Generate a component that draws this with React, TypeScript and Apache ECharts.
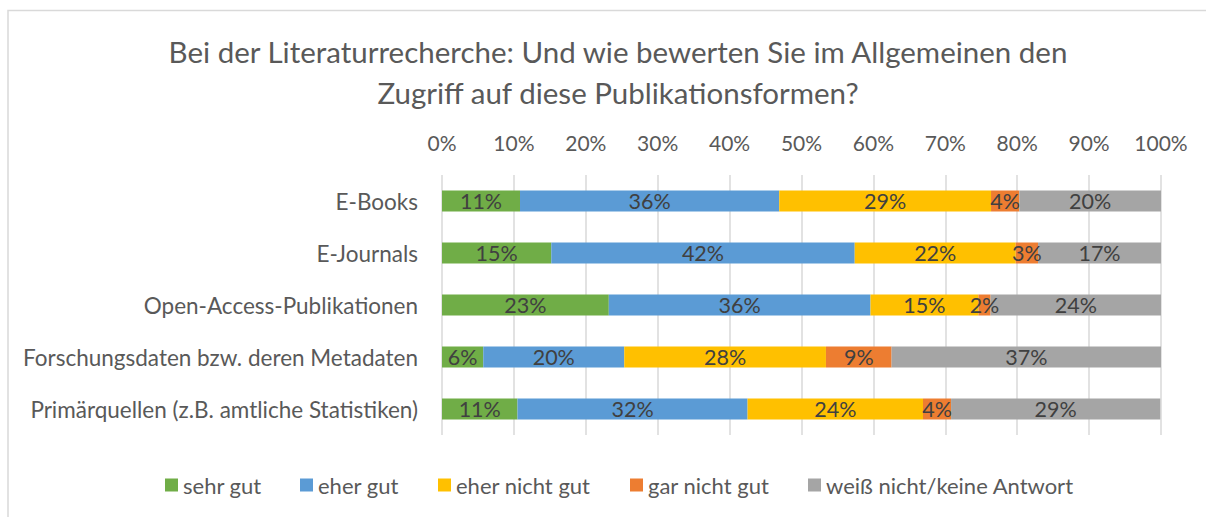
import React, { useEffect, useRef } from "react";
import * as echarts from "echarts";

const categories = [
  "E-Books",
  "E-Journals",
  "Open-Access-Publikationen",
  "Forschungsdaten bzw. deren Metadaten",
  "Primärquellen (z.B. amtliche Statistiken)",
];
const seriesNames = ["sehr gut", "eher gut", "eher nicht gut", "gar nicht gut", "weiß nicht/keine Antwort"];
const sehrGut = [10.85, 15.2, 23.2, 5.74, 10.5];
const eherGut = [36.05, 42.2, 36.4, 19.61, 32.0];
const eherNichtGut = [29.46, 22.4, 15.0, 28.05, 24.4];
const garNichtGut = [3.93, 3.1, 1.7, 9.13, 3.9];
const weissNicht = [19.71, 17.2, 23.7, 37.47, 29.1];
const colors = ["#70ad47", "#5b9bd5", "#ffc000", "#ed7d31", "#a5a5a5"];
const legendX = [165, 300, 438, 630, 808];
const FONT = "Lato";

export default function App() {
  const ref = useRef<HTMLDivElement>(null);
  useEffect(() => {
    if (!ref.current) return;
    const chart = echarts.init(ref.current, undefined, { renderer: "svg" });
    const data = [sehrGut, eherGut, eherNichtGut, garNichtGut, weissNicht];
    chart.setOption({
      animation: false,
      textStyle: { fontFamily: FONT },
      title: {
        text: "Bei der Literaturrecherche: Und wie bewerten Sie im Allgemeinen den\nZugriff auf diese Publikationsformen?",
        left: 613,
        textAlign: "center",
        top: 26,
        textStyle: { fontFamily: FONT, fontSize: 29.5, fontWeight: "normal", color: "#595959", lineHeight: 41 },
      },
      graphic: [
        {
          type: "rect",
          shape: { x: 8, y: 10.5, width: 1230, height: 530 },
          style: { fill: "none", stroke: "#d9d9d9", lineWidth: 1.5 },
          silent: true,
        },
      ],
      legend: seriesNames.map((n, i) => ({
        top: 474,
        left: legendX[i],
        itemWidth: 13,
        itemHeight: 13,
        itemGap: 0,
        icon: "rect",
        padding: 0,
        textStyle: { fontFamily: FONT, fontSize: 22, color: "#595959", padding: [0, 0, 0, 0] },
        data: [n],
      })),
      grid: { left: 442, right: 45, top: 175, bottom: 82 },
      xAxis: {
        type: "value",
        position: "top",
        min: 0,
        max: 100,
        interval: 10,
        axisLine: { show: false },
        axisTick: { show: false },
        axisLabel: { formatter: "{value}%", fontSize: 21, color: "#595959", margin: 22 },
        splitLine: { lineStyle: { color: "#d9d9d9", width: 1.5 } },
      },
      yAxis: {
        type: "category",
        inverse: true,
        data: categories,
        axisLine: { show: false },
        axisTick: { show: false },
        axisLabel: { fontSize: 22.5, color: "#595959", margin: 24 },
      },
      series: seriesNames.map((name, i) => ({
        name,
        type: "bar",
        stack: "total",
        barWidth: 21,
        itemStyle: { color: colors[i] },
        label: {
          show: true,
          position: "inside",
          formatter: (p: any) => Math.round(p.value) + "%",
          fontSize: 21.5,
          color: "#404040",
          fontFamily: FONT,
        },
        data: data[i],
      })),
    });
    return () => chart.dispose();
  }, []);
  return <div ref={ref} style={{ position: "absolute", left: 0, top: 0, width: 1206, height: 517, background: "#fff" }} />;
}
